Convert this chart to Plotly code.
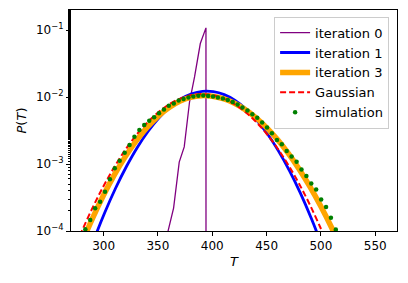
import plotly.graph_objects as go

# iteration 0 (purple)
T_it0 = [358.6, 359.0, 364.4, 369.6, 374.2, 379.1, 383.7, 389.0, 394.2, 394.3]
P_it0 = [1e-10, 9.5e-5, 2.2e-4, 1.07e-3, 1.8e-3, 8.5e-3, 0.020, 0.063, 0.108, 1e-10]

# iteration 1 (blue)
T_it1 = [281, 291, 301, 311, 321, 331, 341, 351, 361, 371, 381, 391, 401, 411, 421, 431, 441, 451, 461, 471, 481, 491, 501, 511]
P_it1 = [2.6e-5, 7.33e-5, 1.87e-4, 4.35e-4, 9.19e-4, 1.77e-3, 3.09e-3, 4.91e-3, 7.11e-3, 9.35e-3, 1.119e-2,
         1.219e-2, 1.207e-2, 1.088e-2, 8.92e-3, 6.65e-3, 4.51e-3, 2.78e-3, 1.56e-3, 7.97e-4, 3.70e-4, 1.56e-4,
         6.0e-5, 2.1e-5]

# iteration 3 (orange)
T_it3 = [275, 280, 290, 300, 310, 320, 330, 340, 350, 360, 370, 380, 390, 400, 410, 420, 430, 440, 450, 460, 470, 480, 490, 500, 510, 520]
P_it3 = [4.0e-5, 6.6e-5, 1.57e-4, 3.44e-4, 6.94e-4, 1.29e-3, 2.22e-3, 3.52e-3, 5.15e-3, 6.94e-3, 8.64e-3, 9.91e-3,
         1.050e-2, 1.028e-2, 9.44e-3, 8.13e-3, 6.55e-3, 4.95e-3, 3.50e-3, 2.32e-3, 1.44e-3, 8.36e-4, 4.55e-4,
         2.32e-4, 1.11e-4, 4.97e-5]

# Gaussian (red dashed)
T_gauss = [275, 280, 290, 300, 310, 320, 330, 340, 350, 360, 370, 380, 390, 400, 410, 420, 430, 440, 450, 460, 470, 480, 490, 500, 505]
P_gauss = [6.4e-5, 9.97e-5, 2.25e-4, 4.70e-4, 9.10e-4, 1.63e-3, 2.70e-3, 4.14e-3, 5.88e-3, 7.74e-3, 9.42e-3, 1.062e-2,
           1.108e-2, 1.070e-2, 9.57e-3, 7.92e-3, 6.07e-3, 4.31e-3, 2.83e-3, 1.72e-3, 9.67e-4, 5.04e-4, 2.43e-4,
           1.08e-4, 7.0e-5]

# simulation (green dots)
T_sim = [283.2, 287.7, 292.2, 296.8, 301.3, 305.8, 310.3, 314.8, 319.4, 323.9, 328.4, 332.9, 337.4, 342.0,
         346.5, 351.0, 355.5, 360.0, 364.6, 369.1, 373.6, 378.1, 382.6, 387.2, 391.7, 396.2, 400.7, 405.2,
         409.8, 414.3, 418.8, 423.3, 427.8, 432.4, 436.9, 441.4, 445.9, 450.4, 454.9, 459.5, 464.0, 468.5,
         473.0, 477.6, 482.1, 486.6, 491.1, 495.6, 500.2, 504.7, 509.2, 513.7]
P_sim = [1.06e-4, 1.46e-4, 2.18e-4, 2.74e-4, 3.86e-4, 5.92e-4, 8.63e-4, 1.12e-3, 1.48e-3, 1.92e-3, 2.55e-3,
         3.21e-3, 3.82e-3, 4.43e-3, 5.01e-3, 5.75e-3, 6.53e-3, 7.41e-3, 8.04e-3, 8.91e-3, 9.33e-3, 9.89e-3,
         1.023e-2, 1.047e-2, 1.059e-2, 1.035e-2, 1.023e-2, 9.89e-3, 9.55e-3, 9.02e-3, 8.41e-3, 7.76e-3,
         7.00e-3, 6.31e-3, 5.56e-3, 4.90e-3, 4.17e-3, 3.51e-3, 2.87e-3, 2.28e-3, 1.97e-3, 1.56e-3, 1.29e-3,
         1.08e-3, 8.32e-4, 6.61e-4, 5.13e-4, 4.17e-4, 2.95e-4, 2.29e-4, 1.58e-4, 1.05e-4]

x_ticks = [300, 350, 400, 450, 500, 550]
y_ticks = [1e-4, 1e-3, 1e-2, 1e-1]
y_ticktext = ["10<sup>−4</sup>", "10<sup>−3</sup>", "10<sup>−2</sup>", "10<sup>−1</sup>"]

fig = go.Figure()
fig.add_trace(go.Scatter(x=T_it0, y=P_it0, mode="lines", name="iteration 0",
                         line=dict(color="#800080", width=1.3)))
fig.add_trace(go.Scatter(x=T_it1, y=P_it1, mode="lines", name="iteration 1",
                         line=dict(color="#0000ff", width=2.8, shape="spline")))
fig.add_trace(go.Scatter(x=T_it3, y=P_it3, mode="lines", name="iteration 3",
                         line=dict(color="#ffa500", width=5.5, shape="spline")))
fig.add_trace(go.Scatter(x=T_gauss, y=P_gauss, mode="lines", name="Gaussian",
                         line=dict(color="#ff0000", width=2, dash="6px,3px", shape="spline")))
fig.add_trace(go.Scatter(x=T_sim, y=P_sim, mode="markers", name="simulation",
                         marker=dict(color="#008000", size=4.5)))

font = "DejaVu Sans, sans-serif"
fig.update_layout(
    width=408, height=283,
    margin=dict(l=71, r=11, t=10, b=52),
    paper_bgcolor="white", plot_bgcolor="white",
    font=dict(family=font, size=12, color="black"),
    showlegend=True,
    legend=dict(x=0.623, y=0.97, xanchor="left", yanchor="top",
                bgcolor="rgba(255,255,255,0.8)", bordercolor="#cccccc", borderwidth=1,
                font=dict(family=font, size=13), tracegroupgap=0),
    xaxis=dict(range=[270, 570], tickvals=x_ticks, showgrid=False, zeroline=False, automargin=False,
               showline=True, linecolor="black", linewidth=1, mirror=True,
               ticks="outside", ticklen=4, tickcolor="black",
               title=dict(text="<i>T</i>", standoff=4, font=dict(size=13))),
    yaxis=dict(type="log", range=[-4, -0.7], tickvals=y_ticks, ticktext=y_ticktext,
               showgrid=False, zeroline=False, automargin=False,
               showline=True, linecolor="black", linewidth=1, mirror=True,
               ticks="outside", ticklen=4, tickcolor="black",
               minor=dict(ticks="outside", ticklen=2, tickcolor="black", showgrid=False),
               title=dict(text="<i>P</i>(<i>T</i>)", standoff=6, font=dict(size=13))),
)

fig.write_html("out.html", config={"displayModeBar": False},
               post_script="document.body.style.margin='0';document.body.style.padding='0';")
